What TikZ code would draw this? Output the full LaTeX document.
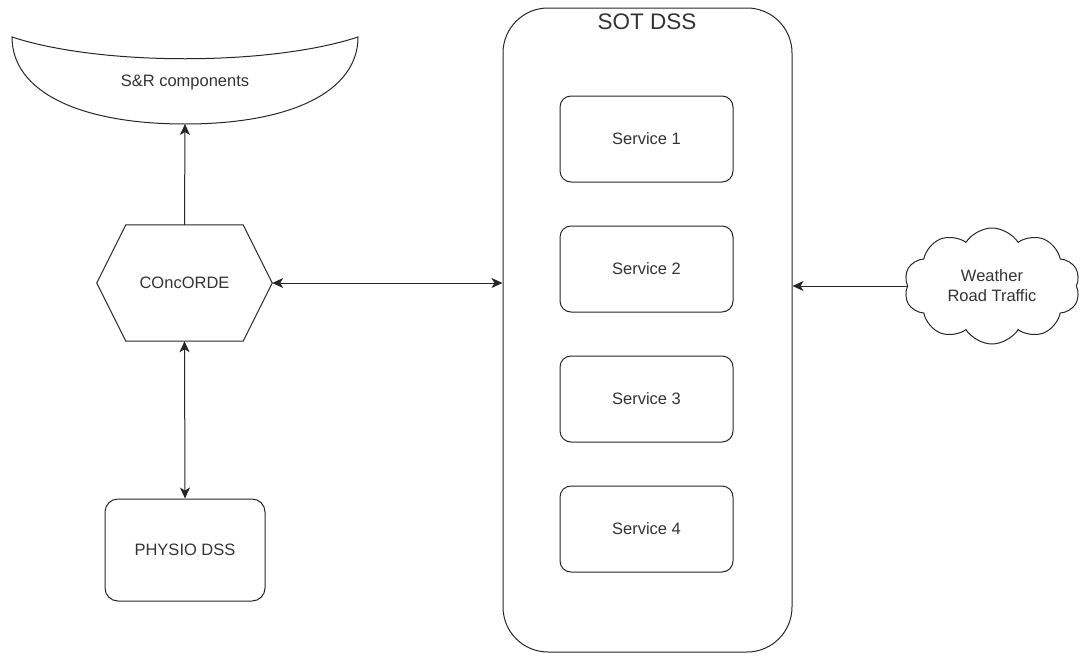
\documentclass[tikz,border=0pt]{standalone}
\usepackage{fontspec}
\setmainfont{Liberation Sans}
\usetikzlibrary{positioning,shapes.symbols,arrows.meta}
\tikzset{>=latex}
\colorlet{myline}{black!85}
\colorlet{mytext}{black!80}
\tikzstyle{mynode}=[align=center, font=\fontsize{16.5}{20}\selectfont, text=mytext]
\tikzstyle{service}=[mynode, rectangle, draw=myline, line width=1pt, rounded corners=11pt, minimum width=173pt, minimum height=86pt]
\tikzstyle{container}=[rectangle, draw=myline, line width=1pt, rounded corners=45pt, minimum width=289pt, minimum height=644pt]
\tikzstyle{hexbox}=[mynode, minimum width=175pt, minimum height=116pt, inner sep=0pt]
\tikzstyle{sky}=[mynode, cloud, draw=myline, line width=1pt, cloud puffs=10, cloud puff arc=115, aspect=1.5, minimum width=176pt, minimum height=116pt, inner sep=0pt]
\tikzstyle{connect arrow}=[-{Stealth[length=11pt,width=10pt,inset=3pt]}, line width=1pt, myline]
\tikzstyle{double arrow}=[{Stealth[length=11pt,width=10pt,inset=3pt]}-{Stealth[length=11pt,width=10pt,inset=3pt]}]

\begin{document}
\begin{tikzpicture}[x=1pt, y=-1pt, on grid]
\useasboundingbox (0,0) rectangle (1081,656);

% SOT DSS and its services
\node[container] (sot) at (647.5,330) {};
\node[mynode, font=\fontsize{22.5}{26}\selectfont] (sottitle) at (647,22) {SOT DSS};
\node[service] (s1) at (646.5,139) {Service 1};
\node[service] (s2) [below=130pt of s1] {Service 2};
\node[service] (s3) [below=130pt of s2] {Service 3};
\node[service] (s4) [below=130pt of s3] {Service 4};

% left column
\node[hexbox] (conc) at (184.5,283) {COncORDE};
\draw[line width=1pt, myline] (conc.west) -- ([xshift=29pt]conc.north west) -- ([xshift=-29pt]conc.north east)
  -- (conc.east) -- ([xshift=-29pt]conc.south east) -- ([xshift=29pt]conc.south west) -- cycle;

\node[service, minimum width=160pt, minimum height=102pt, rounded corners=13pt] (physio) at (185,550) {PHYSIO DSS};

% S&R components
\node[mynode] (sr) at (185,82) {S\&R components};
\coordinate (srb) at (185,124);
\draw[line width=1pt, myline] (12,37) .. controls (100,66) and (270,66) .. (358,37)
  .. controls (358,92) and (290,124) .. (srb) .. controls (80,124) and (12,92) .. cycle;

% cloud
\node[sky] (wr) at (992,286) {Weather\\Road Traffic};

\begin{scope}[connect arrow]
    \draw (conc.north) -- (srb);
    \draw[double arrow] (conc.south) -- (physio.north);
    \draw[double arrow] (conc.east) -- (conc.east -| sot.west);
    \draw (wr.west) -- (wr.west -| sot.east);
\end{scope}

\end{tikzpicture}
\end{document}
